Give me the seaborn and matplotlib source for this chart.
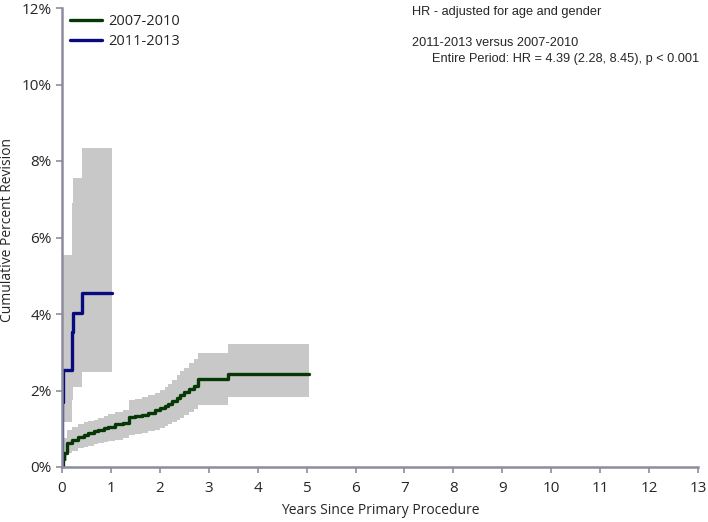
import numpy as np
import pandas as pd
import seaborn as sns
import matplotlib.pyplot as plt
from matplotlib.ticker import FuncFormatter

sns.set_style("ticks")
plt.rcParams['font.family'] = ['Open Sans', 'DejaVu Sans']

# 2007-2010 cohort (years, cumulative percent revision, 95% CI)
t_0710 = [0, 0.02, 0.05, 0.1, 0.2, 0.33, 0.45, 0.54, 0.65, 0.74, 0.85, 0.95, 1.08, 1.25, 1.36,
          1.5, 1.63, 1.75, 1.9, 2.0, 2.1, 2.17, 2.25, 2.35, 2.42, 2.5, 2.6, 2.7, 2.79, 3.40, 5.04]
est_0710 = [0, 0.2, 0.36, 0.62, 0.70, 0.78, 0.84, 0.88, 0.93, 0.97, 1.01, 1.05, 1.12, 1.16, 1.30,
            1.33, 1.36, 1.42, 1.49, 1.55, 1.60, 1.65, 1.72, 1.80, 1.88, 1.95, 2.04, 2.12, 2.29, 2.43, 2.43]
lo_0710 = [0, 0.05, 0.15, 0.36, 0.42, 0.49, 0.53, 0.56, 0.59, 0.62, 0.65, 0.68, 0.71, 0.75, 0.84,
           0.87, 0.90, 0.93, 0.97, 1.02, 1.07, 1.12, 1.17, 1.22, 1.27, 1.35, 1.45, 1.52, 1.62, 1.82, 1.82]
hi_0710 = [0, 0.5, 0.75, 0.97, 1.05, 1.12, 1.17, 1.21, 1.24, 1.27, 1.33, 1.38, 1.45, 1.50, 1.75,
           1.78, 1.82, 1.87, 1.93, 2.02, 2.10, 2.18, 2.28, 2.40, 2.50, 2.60, 2.72, 2.82, 2.99, 3.21, 3.21]

# 2011-2013 cohort
t_1113 = [0, 0.01, 0.02, 0.04, 0.2, 0.23, 0.4, 1.03]
est_1113 = [0, 1.7, 2.54, 2.54, 3.54, 4.02, 4.56, 4.56]
lo_1113 = [0, 0, 0, 1.18, 1.75, 2.1, 2.49, 2.49]
hi_1113 = [0, 5.54, 5.54, 5.54, 6.9, 7.56, 8.33, 8.33]

x_ticks = list(range(0, 14))
y_ticks = [0, 2, 4, 6, 8, 10, 12]

df1 = pd.DataFrame({"Years": t_0710, "CPR": est_0710})
df2 = pd.DataFrame({"Years": t_1113, "CPR": est_1113})

fig = plt.figure(figsize=(7.08, 5.22), dpi=100)
ax = fig.add_axes([62 / 708, 55 / 522, 636 / 708, 459 / 522])

band = "#c8c8c8"
ax.fill_between(t_0710, lo_0710, hi_0710, step="post", color=band, lw=0)
ax.fill_between(t_1113, lo_1113, hi_1113, step="post", color=band, lw=0)

sns.lineplot(x="Years", y="CPR", data=df1, ax=ax, drawstyle="steps-post",
             color="#063806", lw=2.4, label="2007-2010")
sns.lineplot(x="Years", y="CPR", data=df2, ax=ax, drawstyle="steps-post",
             color="#0a0a80", lw=2.4, label="2011-2013")

ax.set_xlim(0, 13)
ax.set_ylim(0, 12)
ax.set_xticks(x_ticks)
ax.set_yticks(y_ticks)
ax.yaxis.set_major_formatter(FuncFormatter(lambda v, p: f"{v:.0f}%"))
ax.tick_params(labelsize=11, color="#8c8ca0", length=4, width=1.2)
ax.tick_params(axis="x", pad=6)

sns.despine(ax=ax)
for s in ["left", "bottom"]:
    ax.spines[s].set_color("#8c8ca0")
    ax.spines[s].set_linewidth(1.8)

ax.set_xlabel("Years Since Primary Procedure", fontsize=10, labelpad=5)
ax.set_ylabel("Cumulative Percent Revision", fontsize=10)
ax.yaxis.set_label_coords(-0.074, 0.516)

ax.legend(frameon=False, loc="upper left", bbox_to_anchor=(0.004, 1.0), borderaxespad=0,
          fontsize=10.5, handlelength=2.2, handletextpad=0.4, labelspacing=0.35)

txt = dict(transform=fig.transFigure, family=["Liberation Sans", "DejaVu Sans"], fontsize=9.2, va="top")
fig.text(412 / 708, 1 - 6 / 522, "HR - adjusted for age and gender", **txt)
fig.text(412 / 708, 1 - 37 / 522, "2011-2013 versus 2007-2010", **txt)
fig.text(432 / 708, 1 - 53 / 522, "Entire Period: HR = 4.39 (2.28, 8.45), p < 0.001", **txt)

plt.savefig("out.png", dpi=100)
